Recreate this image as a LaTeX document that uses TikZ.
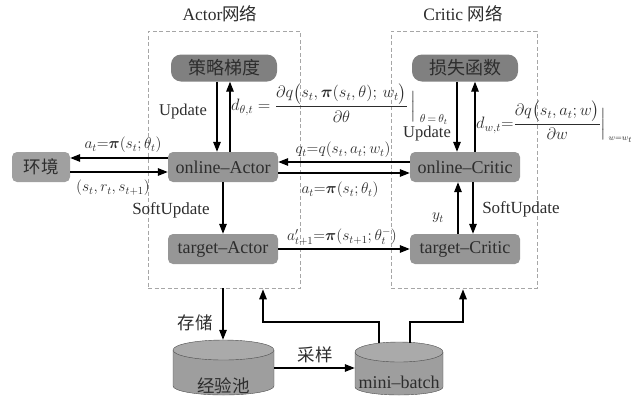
\RequirePackage{fix-cm}
\documentclass[tikz,border=0pt]{standalone}
\usepackage{amsmath,bm}
\usepackage{fontspec}
\setmainfont{Liberation Serif}
\newfontfamily\cjk{Noto Sans CJK SC}
\usetikzlibrary{arrows.meta}
\definecolor{boxdark}{RGB}{128,128,128}
\definecolor{boxmid}{RGB}{150,150,150}
\definecolor{boxlight}{RGB}{160,160,160}
\definecolor{cylbody}{RGB}{158,158,158}
\definecolor{cyltop}{RGB}{170,170,170}
\definecolor{txt}{RGB}{45,45,45}
\begin{document}
\begin{tikzpicture}[x=1pt,y=-1pt,
  gbox/.style={rounded corners=5pt, inner sep=0pt, text=txt, minimum width=110pt, minimum height=30pt, fill=boxmid, font=\fontsize{18}{18}\selectfont},
  topbox/.style={gbox, fill=boxdark, rounded corners=10pt, minimum width=106pt, minimum height=27pt, font=\cjk\fontsize{18}{18}\selectfont},
  frame/.style={draw=gray!70, dash pattern=on 4pt off 2.5pt, line width=0.6pt, inner sep=0pt},
  arr/.style={line width=1.4pt, -{Triangle[length=10pt,width=7.5pt]}},
  lab/.style={text=txt, font=\fontsize{15.5}{15.5}\selectfont, inner sep=0pt},
  wlab/.style={text=txt, font=\fontsize{16.5}{16.5}\selectfont, inner sep=0pt},
  cjklab/.style={text=txt, font=\cjk\fontsize{17.5}{17.5}\selectfont, inner sep=0pt},
  cylnode/.style={inner sep=0pt, draw=none}
]
\useasboundingbox (0,0) rectangle (642,400);

% dashed frames
\node[frame, minimum width=152pt, minimum height=257pt] (abox) at (224,159.5) {};
\node[frame, minimum width=146pt, minimum height=257pt] (cbox) at (464,159.5) {};
\node[text=txt, font=\fontsize{17.5}{17.5}\selectfont, inner sep=0pt] (atitle) at (220,14) {Actor{\cjk 网络}};
\node[text=txt, font=\fontsize{17.5}{17.5}\selectfont, inner sep=0pt] (ctitle) at (463,14) {Critic {\cjk 网络}};

% boxes
\node[topbox] (grad) at (224,68) {策略梯度};
\node[topbox] (loss) at (465,68) {损失函数};
\node[gbox, fill=boxlight, minimum width=58pt, font=\cjk\fontsize{17.5}{17.5}\selectfont] (env) at (41,167) {环境};
\node[gbox] (oa) at (223,167) {online–Actor};
\node[gbox] (ta) at (223,249) {target–Actor};
\node[gbox] (oc) at (465,167) {online–Critic};
\node[gbox] (tc) at (465,249) {target–Critic};

% cylinders
\fill[cylbody] (173,350) -- (173,386) arc[start angle=180, end angle=360, x radius=50.5pt, y radius=9pt] -- (274,350) -- cycle;
\draw[gray!60!black, line width=0.4pt] (173,350) -- (173,386) arc[start angle=180, end angle=360, x radius=50.5pt, y radius=9pt] -- (274,350);
\filldraw[fill=cyltop, draw=gray!60!black, line width=0.4pt] (223.5,350) ellipse[x radius=50.5pt, y radius=10pt];
\node[cylnode, minimum width=101pt, minimum height=55pt] (pool) at (223.5,367.5) {};
\node[cjklab] (pooltxt) at (223.5,386) {经验池};

\fill[cylbody] (355,352) -- (355,387) arc[start angle=180, end angle=360, x radius=44pt, y radius=8pt] -- (443,352) -- cycle;
\draw[gray!60!black, line width=0.4pt] (355,352) -- (355,387) arc[start angle=180, end angle=360, x radius=44pt, y radius=8pt] -- (443,352);
\filldraw[fill=cyltop, draw=gray!60!black, line width=0.4pt] (399,352) ellipse[x radius=44pt, y radius=10pt];
\node[cylnode, minimum width=88pt, minimum height=53pt] (mb) at (399,368.5) {};
\node[lab, font=\fontsize{18}{18}\selectfont] (mbtxt) at (399,382) {mini–batch};

% actor side arrows
\draw[arr] ([xshift=-7pt]grad.south) -- ([xshift=-7pt]grad.south |- oa.north);
\draw[arr] ([xshift=7pt]oa.north) -- ([xshift=7pt]oa.north |- grad.south);
\node[lab, font=\fontsize{16.5}{16.5}\selectfont] (upd1) at (183,112) {Update};
\node[wlab, anchor=west] (dtheta) at (231,104) {$d_{\theta,t}=\dfrac{\partial q\big(s_t,\bm{\pi}(s_t,\theta);\,w_t\big)}{\partial\theta}\,\Big|_{\;\scriptstyle\theta\,=\,\theta_t}$};

\draw[arr] ([xshift=-8pt]loss.south) -- ([xshift=-8pt]loss.south |- oc.north);
\draw[arr] ([xshift=10pt]oc.north) -- ([xshift=10pt]oc.north |- loss.south);
\node[lab, font=\fontsize{16.5}{16.5}\selectfont] (upd2) at (427,134) {Update};
\node[wlab, anchor=west] (dw) at (476,122) {$d_{w,t}{=}\dfrac{\partial q\big(s_t,a_t;w\big)}{\partial w}\Big|_{\,\scriptscriptstyle w=w_t}$};

% env
\draw[arr] ([yshift=9pt]oa.west) -- ([yshift=9pt]oa.west -| env.east);
\draw[arr] ([yshift=-5pt]env.east) -- ([yshift=-5pt]env.east -| oa.west);
\node[lab] (l1) at (123,145) {$a_t{=}\bm{\pi}(s_t;\theta_t)$};
\node[lab] (l2) at (113,188) {$(s_t,r_t,s_{t+1})$};

% actor-critic
\draw[arr] ([yshift=5pt]oc.west) -- ([yshift=5pt]oc.west -| oa.east);
\draw[arr] ([yshift=-6pt]oa.east) -- ([yshift=-6pt]oa.east -| oc.west);
\node[lab] (l3) at (343,150) {$q_t{=}q(s_t,a_t;w_t)$};
\node[lab] (l4) at (340,190) {$a_t{=}\bm{\pi}(s_t;\theta_t)$};

\draw[arr] (oa.south) -- (ta.north);
\node[lab, font=\fontsize{17}{17}\selectfont] (su1) at (171,210) {SoftUpdate};

\draw[arr] (ta.east) -- (tc.west);
\node[lab] (l5) at (342,237) {$a'_{t+1}{=}\bm{\pi}(s_{t+1};\theta^{-}_t)$};

\draw[arr] ([xshift=-7pt]tc.north) -- ([xshift=-7pt]tc.north |- oc.south);
\draw[arr] ([xshift=8pt]oc.south) -- ([xshift=8pt]oc.south |- tc.north);
\node[lab] (yt) at (438,218) {$y_t$};
\node[lab, font=\fontsize{17}{17}\selectfont] (su2) at (521,209) {SoftUpdate};

% replay
\draw[arr] ([xshift=-1pt]abox.south) -- ([xshift=-1pt]abox.south |- pool.north);
\node[cjklab] (store) at (195,323) {存储};
\draw[arr] (pool.east |- 0,368) -- (mb.west |- 0,368);
\node[cjklab] (sample) at (315,355) {采样};

\coordinate (mbl) at ([xshift=-20pt,yshift=-1pt]mb.north);
\coordinate (mbr) at ([xshift=11pt,yshift=-1pt]mb.north);
\draw[arr] (mbl) -- (mbl |- 0,322) -- (263,322) -- ([yshift=-1pt]abox.south -| 263,0);
\draw[arr] (mbr) -- (mbr |- 0,322) -- (463,322) -- ([yshift=-1pt]cbox.south -| 463,0);
\end{tikzpicture}
\end{document}
